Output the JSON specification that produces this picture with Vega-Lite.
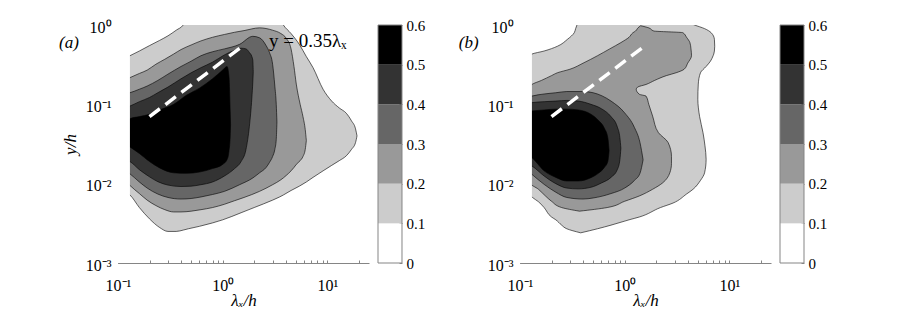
{
  "$schema": "https://vega.github.io/schema/vega-lite/v6.json",
  "padding": {"left": 59, "top": 18, "right": 5, "bottom": 5},
  "background": "white",
  "config": {
    "font": "Liberation Serif",
    "view": {"stroke": null},
    "axis": {"labelFont": "Liberation Serif", "titleFont": "Liberation Serif", "labelFontSize": 16, "titleFontSize": 17, "titleFontWeight": "normal", "labelColor": "#000", "titleColor": "#000", "domainColor": "#858585", "tickColor": "#858585", "grid": false, "zindex": 1, "labelFlush": false, "labelOverlap": false}
  },
  "datasets": {
    "av": [
      {"lev":1,"x":0.125,"lo":0.0075,"hi":0.40},{"lev":1,"x":0.13,"lo":0.0072,"hi":0.41},{"lev":1,"x":0.16,"lo":0.0050,"hi":0.47},{"lev":1,"x":0.2,"lo":0.0036,"hi":0.55},{"lev":1,"x":0.25,"lo":0.0028,"hi":0.64},{"lev":1,"x":0.3,"lo":0.0025,"hi":0.73},{"lev":1,"x":0.36,"lo":0.0025,"hi":0.86},{"lev":1,"x":0.42,"lo":0.0026,"hi":1.0},{"lev":1,"x":0.47,"lo":0.0027,"hi":1.3},{"lev":1,"x":0.6,"lo":0.0029,"hi":1.3},{"lev":1,"x":0.8,"lo":0.0032,"hi":1.3},{"lev":1,"x":1.0,"lo":0.0035,"hi":1.3},{"lev":1,"x":1.5,"lo":0.0043,"hi":1.3},{"lev":1,"x":2.0,"lo":0.0050,"hi":1.3},{"lev":1,"x":3.0,"lo":0.0062,"hi":1.3},{"lev":1,"x":3.5,"lo":0.0068,"hi":1.2},{"lev":1,"x":3.8,"lo":0.0072,"hi":1.0},{"lev":1,"x":4.5,"lo":0.0082,"hi":0.78},{"lev":1,"x":5.4,"lo":0.0093,"hi":0.57},{"lev":1,"x":6.3,"lo":0.0105,"hi":0.40},{"lev":1,"x":7.3,"lo":0.012,"hi":0.29},{"lev":1,"x":9.1,"lo":0.0145,"hi":0.155},{"lev":1,"x":11,"lo":0.017,"hi":0.11},{"lev":1,"x":13,"lo":0.0195,"hi":0.09},{"lev":1,"x":15.2,"lo":0.0225,"hi":0.077},{"lev":1,"x":17,"lo":0.027,"hi":0.062},{"lev":1,"x":18.6,"lo":0.033,"hi":0.049},{"lev":1,"x":19.2,"lo":0.04,"hi":0.04},
      {"lev":2,"x":0.125,"lo":0.0100,"hi":0.212},{"lev":2,"x":0.13,"lo":0.0095,"hi":0.217},{"lev":2,"x":0.16,"lo":0.0075,"hi":0.245},{"lev":2,"x":0.19,"lo":0.0062,"hi":0.27},{"lev":2,"x":0.23,"lo":0.0053,"hi":0.32},{"lev":2,"x":0.28,"lo":0.0047,"hi":0.37},{"lev":2,"x":0.34,"lo":0.0044,"hi":0.43},{"lev":2,"x":0.40,"lo":0.0044,"hi":0.49},{"lev":2,"x":0.5,"lo":0.0045,"hi":0.56},{"lev":2,"x":0.62,"lo":0.0047,"hi":0.63},{"lev":2,"x":0.8,"lo":0.0050,"hi":0.70},{"lev":2,"x":1.04,"lo":0.0055,"hi":0.76},{"lev":2,"x":1.3,"lo":0.0061,"hi":0.81},{"lev":2,"x":1.6,"lo":0.0067,"hi":0.85},{"lev":2,"x":2.25,"lo":0.0080,"hi":0.92},{"lev":2,"x":3.0,"lo":0.0097,"hi":0.86},{"lev":2,"x":3.6,"lo":0.0112,"hi":0.78},{"lev":2,"x":4.05,"lo":0.0127,"hi":0.68},{"lev":2,"x":4.5,"lo":0.0145,"hi":0.50},{"lev":2,"x":4.8,"lo":0.016,"hi":0.30},{"lev":2,"x":5.05,"lo":0.0175,"hi":0.18},{"lev":2,"x":5.5,"lo":0.0195,"hi":0.10},{"lev":2,"x":5.85,"lo":0.022,"hi":0.07},{"lev":2,"x":6.15,"lo":0.027,"hi":0.048},{"lev":2,"x":6.3,"lo":0.035,"hi":0.035},
      {"lev":3,"x":0.125,"lo":0.0138,"hi":0.138},{"lev":3,"x":0.13,"lo":0.0133,"hi":0.14},{"lev":3,"x":0.16,"lo":0.0105,"hi":0.155},{"lev":3,"x":0.19,"lo":0.0088,"hi":0.17},{"lev":3,"x":0.24,"lo":0.0074,"hi":0.20},{"lev":3,"x":0.3,"lo":0.0067,"hi":0.24},{"lev":3,"x":0.4,"lo":0.0064,"hi":0.30},{"lev":3,"x":0.5,"lo":0.0065,"hi":0.35},{"lev":3,"x":0.62,"lo":0.0068,"hi":0.41},{"lev":3,"x":0.8,"lo":0.0073,"hi":0.46},{"lev":3,"x":1.04,"lo":0.0080,"hi":0.50},{"lev":3,"x":1.45,"lo":0.0097,"hi":0.57},{"lev":3,"x":1.94,"lo":0.0118,"hi":0.72},{"lev":3,"x":2.25,"lo":0.0137,"hi":0.69},{"lev":3,"x":2.6,"lo":0.016,"hi":0.55},{"lev":3,"x":2.8,"lo":0.0185,"hi":0.45},{"lev":3,"x":3.0,"lo":0.022,"hi":0.32},{"lev":3,"x":3.15,"lo":0.027,"hi":0.17},{"lev":3,"x":3.25,"lo":0.036,"hi":0.10},{"lev":3,"x":3.3,"lo":0.06,"hi":0.06},
      {"lev":4,"x":0.125,"lo":0.0195,"hi":0.093},{"lev":4,"x":0.13,"lo":0.0190,"hi":0.095},{"lev":4,"x":0.16,"lo":0.0150,"hi":0.108},{"lev":4,"x":0.2,"lo":0.0122,"hi":0.122},{"lev":4,"x":0.24,"lo":0.0106,"hi":0.14},{"lev":4,"x":0.3,"lo":0.0096,"hi":0.165},{"lev":4,"x":0.4,"lo":0.0092,"hi":0.21},{"lev":4,"x":0.5,"lo":0.0093,"hi":0.25},{"lev":4,"x":0.62,"lo":0.0097,"hi":0.29},{"lev":4,"x":0.8,"lo":0.0105,"hi":0.34},{"lev":4,"x":1.04,"lo":0.0125,"hi":0.42},{"lev":4,"x":1.3,"lo":0.0155,"hi":0.48},{"lev":4,"x":1.5,"lo":0.019,"hi":0.51},{"lev":4,"x":1.67,"lo":0.027,"hi":0.50},{"lev":4,"x":1.8,"lo":0.053,"hi":0.45},{"lev":4,"x":1.9,"lo":0.12,"hi":0.40},{"lev":4,"x":1.94,"lo":0.19,"hi":0.36},{"lev":4,"x":1.96,"lo":0.26,"hi":0.26},
      {"lev":5,"x":0.125,"lo":0.030,"hi":0.064},{"lev":5,"x":0.13,"lo":0.029,"hi":0.066},{"lev":5,"x":0.16,"lo":0.024,"hi":0.07},{"lev":5,"x":0.2,"lo":0.019,"hi":0.075},{"lev":5,"x":0.25,"lo":0.0158,"hi":0.085},{"lev":5,"x":0.34,"lo":0.0137,"hi":0.10},{"lev":5,"x":0.45,"lo":0.0135,"hi":0.13},{"lev":5,"x":0.6,"lo":0.0140,"hi":0.16},{"lev":5,"x":0.8,"lo":0.0155,"hi":0.21},{"lev":5,"x":1.0,"lo":0.0175,"hi":0.27},{"lev":5,"x":1.1,"lo":0.020,"hi":0.30},{"lev":5,"x":1.15,"lo":0.026,"hi":0.22},{"lev":5,"x":1.18,"lo":0.04,"hi":0.08},{"lev":5,"x":1.19,"lo":0.055,"hi":0.055}
    ],
    "bv": [
      {"lev":3,"x":0.125,"lo":0.0137,"hi":0.125},{"lev":3,"x":0.13,"lo":0.0131,"hi":0.127},{"lev":3,"x":0.17,"lo":0.0098,"hi":0.135},{"lev":3,"x":0.22,"lo":0.0078,"hi":0.14},{"lev":3,"x":0.28,"lo":0.0067,"hi":0.145},{"lev":3,"x":0.4,"lo":0.0064,"hi":0.145},{"lev":3,"x":0.5,"lo":0.0066,"hi":0.14},{"lev":3,"x":0.74,"lo":0.0075,"hi":0.11},{"lev":3,"x":1.0,"lo":0.0088,"hi":0.078},{"lev":3,"x":1.24,"lo":0.011,"hi":0.051},{"lev":3,"x":1.4,"lo":0.0135,"hi":0.033},{"lev":3,"x":1.5,"lo":0.02,"hi":0.02},
      {"lev":4,"x":0.125,"lo":0.0172,"hi":0.104},{"lev":4,"x":0.13,"lo":0.0167,"hi":0.105},{"lev":4,"x":0.17,"lo":0.0125,"hi":0.108},{"lev":4,"x":0.22,"lo":0.0100,"hi":0.11},{"lev":4,"x":0.28,"lo":0.0088,"hi":0.112},{"lev":4,"x":0.36,"lo":0.0086,"hi":0.11},{"lev":4,"x":0.476,"lo":0.0090,"hi":0.10},{"lev":4,"x":0.6,"lo":0.0102,"hi":0.088},{"lev":4,"x":0.74,"lo":0.0120,"hi":0.07},{"lev":4,"x":0.85,"lo":0.0150,"hi":0.052},{"lev":4,"x":0.9,"lo":0.020,"hi":0.038},{"lev":4,"x":0.92,"lo":0.028,"hi":0.028},
      {"lev":5,"x":0.125,"lo":0.022,"hi":0.082},{"lev":5,"x":0.13,"lo":0.0212,"hi":0.0825},{"lev":5,"x":0.17,"lo":0.0145,"hi":0.085},{"lev":5,"x":0.22,"lo":0.0120,"hi":0.087},{"lev":5,"x":0.28,"lo":0.0108,"hi":0.087},{"lev":5,"x":0.36,"lo":0.0108,"hi":0.085},{"lev":5,"x":0.476,"lo":0.0119,"hi":0.075},{"lev":5,"x":0.56,"lo":0.0135,"hi":0.063},{"lev":5,"x":0.64,"lo":0.016,"hi":0.05},{"lev":5,"x":0.69,"lo":0.019,"hi":0.038},{"lev":5,"x":0.71,"lo":0.026,"hi":0.026}
    ],
    "bh": [
      {"lev":1,"y":0.0024,"xl":0.38,"xr":0.38},{"lev":1,"y":0.0027,"xl":0.28,"xr":0.55},{"lev":1,"y":0.003,"xl":0.25,"xr":0.74},{"lev":1,"y":0.0035,"xl":0.22,"xr":1.1},{"lev":1,"y":0.0038,"xl":0.2,"xr":1.38},{"lev":1,"y":0.005,"xl":0.17,"xr":2.2},{"lev":1,"y":0.0057,"xl":0.155,"xr":2.9},{"lev":1,"y":0.0074,"xl":0.125,"xr":3.9},{"lev":1,"y":0.0085,"xl":0.125,"xr":4.5},{"lev":1,"y":0.011,"xl":0.125,"xr":5.3},{"lev":1,"y":0.0137,"xl":0.125,"xr":5.8},{"lev":1,"y":0.0203,"xl":0.125,"xr":6.0},{"lev":1,"y":0.03,"xl":0.125,"xr":5.85},{"lev":1,"y":0.044,"xl":0.125,"xr":5.6},{"lev":1,"y":0.07,"xl":0.125,"xr":5.2},{"lev":1,"y":0.116,"xl":0.125,"xr":5.0},{"lev":1,"y":0.18,"xl":0.125,"xr":5.05},{"lev":1,"y":0.25,"xl":0.125,"xr":5.3},{"lev":1,"y":0.3,"xl":0.125,"xr":6.0},{"lev":1,"y":0.35,"xl":0.125,"xr":6.6},{"lev":1,"y":0.41,"xl":0.125,"xr":7.0},{"lev":1,"y":0.43,"xl":0.13,"xr":7.1},{"lev":1,"y":0.47,"xl":0.17,"xr":7.2},{"lev":1,"y":0.54,"xl":0.228,"xr":7.25},{"lev":1,"y":0.66,"xl":0.284,"xr":7.2},{"lev":1,"y":0.8,"xl":0.33,"xr":6.7},{"lev":1,"y":0.9,"xl":0.34,"xr":5.8},{"lev":1,"y":1.0,"xl":0.35,"xr":4.65},{"lev":1,"y":1.3,"xl":0.38,"xr":3.0},
      {"lev":2,"y":0.0045,"xl":0.37,"xr":0.37},{"lev":2,"y":0.005,"xl":0.25,"xr":0.68},{"lev":2,"y":0.006,"xl":0.2,"xr":1.0},{"lev":2,"y":0.007,"xl":0.175,"xr":1.38},{"lev":2,"y":0.0085,"xl":0.15,"xr":1.85},{"lev":2,"y":0.0102,"xl":0.125,"xr":2.3},{"lev":2,"y":0.0137,"xl":0.125,"xr":2.7},{"lev":2,"y":0.018,"xl":0.125,"xr":2.8},{"lev":2,"y":0.022,"xl":0.125,"xr":2.8},{"lev":2,"y":0.033,"xl":0.125,"xr":2.6},{"lev":2,"y":0.044,"xl":0.125,"xr":2.1},{"lev":2,"y":0.071,"xl":0.125,"xr":1.85},{"lev":2,"y":0.1,"xl":0.125,"xr":1.7},{"lev":2,"y":0.127,"xl":0.125,"xr":1.6},{"lev":2,"y":0.134,"xl":0.125,"xr":1.38},{"lev":2,"y":0.155,"xl":0.125,"xr":1.29},{"lev":2,"y":0.165,"xl":0.125,"xr":1.33},{"lev":2,"y":0.178,"xl":0.13,"xr":1.6},{"lev":2,"y":0.2,"xl":0.16,"xr":1.93},{"lev":2,"y":0.23,"xl":0.2,"xr":2.5},{"lev":2,"y":0.25,"xl":0.228,"xr":3.1},{"lev":2,"y":0.277,"xl":0.3,"xr":3.7},{"lev":2,"y":0.33,"xl":0.40,"xr":4.0},{"lev":2,"y":0.41,"xl":0.55,"xr":4.35},{"lev":2,"y":0.5,"xl":0.72,"xr":4.3},{"lev":2,"y":0.6,"xl":0.92,"xr":4.2},{"lev":2,"y":0.7,"xl":1.1,"xr":3.9},{"lev":2,"y":0.8,"xl":1.2,"xr":3.6},{"lev":2,"y":0.84,"xl":1.27,"xr":1.9},{"lev":2,"y":0.92,"xl":1.34,"xr":1.7},{"lev":2,"y":0.98,"xl":1.42,"xr":1.42}
    ],
    "dash": [{"x":0.2,"y":0.07},{"x":1.55,"y":0.5425}],
    "cb": [{"lev":"0","lo":0,"hi":0.1},{"lev":"1","lo":0.1,"hi":0.2},{"lev":"2","lo":0.2,"hi":0.3},{"lev":"3","lo":0.3,"hi":0.4},{"lev":"4","lo":0.4,"hi":0.5},{"lev":"5","lo":0.5,"hi":0.6},{"lev":"f","lo":0,"hi":0.6}]
  },
  "spacing": 9,
  "bounds": "flush",
  "hconcat": [
    {
      "width": 251, "height": 238,
      "layer": [
        {"data": {"name": "av"}, "transform": [{"filter": "datum.lev == 1"}],
         "mark": {"type": "area", "orient": "vertical", "interpolate": "monotone", "fill": "#cccccc", "stroke": "#000", "strokeWidth": 0.6, "clip": true},
         "encoding": {
           "x": {"field": "x", "type": "quantitative", "scale": {"type": "log", "domain": [0.1, 25], "nice": false},
                 "axis": {"title": "λₓ/h", "titleFontStyle": "italic", "values": [0.1,0.2,0.3,0.4,0.5,0.6,0.7,0.8,0.9,1,2,3,4,5,6,7,8,9,10,20], "labelExpr": "datum.value == 0.1 ? '10⁻¹' : datum.value == 1 ? '10⁰' : datum.value == 10 ? '10¹' : ''", "tickSize": -3, "labelPadding": 17, "titlePadding": -1, "labelOverlap": false}},
           "y": {"field": "lo", "type": "quantitative", "scale": {"type": "log", "domain": [0.001, 1], "nice": false},
                 "axis": {"title": "y/h", "titleFontStyle": "italic", "values": [0.001,0.002,0.003,0.004,0.005,0.006,0.007,0.008,0.009,0.01,0.02,0.03,0.04,0.05,0.06,0.07,0.08,0.09,0.1,0.2,0.3,0.4,0.5,0.6,0.7,0.8,0.9,1], "labelExpr": "datum.value == 0.001 ? '10⁻³' : datum.value == 0.01 ? '10⁻²' : datum.value == 0.1 ? '10⁻¹' : datum.value == 1 ? '10⁰' : ''", "tickSize": -3, "labelPadding": 10, "labelOffset": 2, "titlePadding": 6, "labelOverlap": false}},
           "y2": {"field": "hi"}}},
        {"data": {"name": "av"}, "transform": [{"filter": "datum.lev == 2"}],
         "mark": {"type": "area", "orient": "vertical", "interpolate": "monotone", "fill": "#999999", "stroke": "#000", "strokeWidth": 0.6, "clip": true},
         "encoding": {"x": {"field": "x", "type": "quantitative"}, "y": {"field": "lo", "type": "quantitative"}, "y2": {"field": "hi"}}},
        {"data": {"name": "av"}, "transform": [{"filter": "datum.lev == 3"}],
         "mark": {"type": "area", "orient": "vertical", "interpolate": "monotone", "fill": "#666666", "stroke": "#000", "strokeWidth": 0.6, "clip": true},
         "encoding": {"x": {"field": "x", "type": "quantitative"}, "y": {"field": "lo", "type": "quantitative"}, "y2": {"field": "hi"}}},
        {"data": {"name": "av"}, "transform": [{"filter": "datum.lev == 4"}],
         "mark": {"type": "area", "orient": "vertical", "interpolate": "monotone", "fill": "#333333", "stroke": "#000", "strokeWidth": 0.6, "clip": true},
         "encoding": {"x": {"field": "x", "type": "quantitative"}, "y": {"field": "lo", "type": "quantitative"}, "y2": {"field": "hi"}}},
        {"data": {"name": "av"}, "transform": [{"filter": "datum.lev == 5"}],
         "mark": {"type": "area", "orient": "vertical", "interpolate": "monotone", "fill": "#000000", "stroke": "#000", "strokeWidth": 0.6, "clip": true},
         "encoding": {"x": {"field": "x", "type": "quantitative"}, "y": {"field": "lo", "type": "quantitative"}, "y2": {"field": "hi"}}},
        {"data": {"values": [{}]}, "mark": {"type": "rect", "fill": "white"},
         "encoding": {"x": {"datum": 0.1, "type": "quantitative"}, "x2": {"datum": 0.13}, "y": {"datum": 0.001, "type": "quantitative"}, "y2": {"datum": 1}}},
        {"data": {"name": "dash"}, "mark": {"type": "line", "stroke": "white", "strokeWidth": 3.5, "strokeDash": [13, 7], "strokeCap": "butt", "clip": true},
         "encoding": {"x": {"field": "x", "type": "quantitative"}, "y": {"field": "y", "type": "quantitative"}}},
        {"data": {"values": [{"x": 0.034, "y": 0.6, "t": "(a)"}]}, "mark": {"type": "text", "font": "Liberation Serif", "fontSize": 17, "fontStyle": "italic", "align": "center", "baseline": "middle"},
         "encoding": {"x": {"field": "x", "type": "quantitative"}, "y": {"field": "y", "type": "quantitative"}, "text": {"field": "t"}}},
        {"data": {"values": [{"x": 6.5, "y": 0.528, "t": "y = 0.35λₓ"}]}, "mark": {"type": "text", "font": "Liberation Serif", "fontSize": 19, "align": "center", "baseline": "alphabetic"},
         "encoding": {"x": {"field": "x", "type": "quantitative"}, "y": {"field": "y", "type": "quantitative"}, "text": {"field": "t"}}}
      ]
    },
    {
      "width": 133, "height": 238,
      "data": {"name": "cb"},
      "mark": {"type": "rect", "strokeWidth": 1},
      "encoding": {
        "x": {"datum": 0, "type": "quantitative", "scale": {"domain": [0, 5.5417], "nice": false, "zero": false}, "axis": null},
        "x2": {"datum": 1},
        "y": {"field": "lo", "type": "quantitative", "scale": {"domain": [0, 0.6], "nice": false}, "axis": {"orient": "right", "offset": -109, "title": null, "domain": false, "values": [0,0.1,0.2,0.3,0.4,0.5,0.6], "labelExpr": "datum.value == 0 ? '0' : format(datum.value, '.1f')", "tickSize": -3, "labelPadding": 7, "labelFontSize": 15, "labelOverlap": false, "labelBound": false}},
        "y2": {"field": "hi"},
        "fill": {"field": "lev", "type": "nominal", "scale": {"domain": ["0","1","2","3","4","5","f"], "range": ["#ffffff","#cccccc","#999999","#666666","#333333","#000000","transparent"]}, "legend": null},
        "stroke": {"field": "lev", "type": "nominal", "scale": {"domain": ["0","1","2","3","4","5","f"], "range": ["transparent","transparent","transparent","transparent","transparent","transparent","#858585"]}, "legend": null}
      }
    },
    {
      "width": 251, "height": 238,
      "layer": [
        {"data": {"name": "bh"}, "transform": [{"filter": "datum.lev == 1"}],
         "mark": {"type": "area", "orient": "horizontal", "interpolate": "monotone", "fill": "#cccccc", "stroke": "#000", "strokeWidth": 0.6, "clip": true},
         "encoding": {
           "x": {"field": "xl", "type": "quantitative", "scale": {"type": "log", "domain": [0.1, 25], "nice": false},
                 "axis": {"title": "λₓ/h", "titleFontStyle": "italic", "values": [0.1,0.2,0.3,0.4,0.5,0.6,0.7,0.8,0.9,1,2,3,4,5,6,7,8,9,10,20], "labelExpr": "datum.value == 0.1 ? '10⁻¹' : datum.value == 1 ? '10⁰' : datum.value == 10 ? '10¹' : ''", "tickSize": -3, "labelPadding": 17, "titlePadding": -1, "labelOverlap": false}},
           "x2": {"field": "xr"},
           "y": {"field": "y", "type": "quantitative", "scale": {"type": "log", "domain": [0.001, 1], "nice": false},
                 "axis": {"title": null, "values": [0.001,0.002,0.003,0.004,0.005,0.006,0.007,0.008,0.009,0.01,0.02,0.03,0.04,0.05,0.06,0.07,0.08,0.09,0.1,0.2,0.3,0.4,0.5,0.6,0.7,0.8,0.9,1], "labelExpr": "datum.value == 0.001 ? '10⁻³' : datum.value == 0.01 ? '10⁻²' : datum.value == 0.1 ? '10⁻¹' : datum.value == 1 ? '10⁰' : ''", "tickSize": -3, "labelPadding": 10, "labelOffset": 2, "labelOverlap": false}}}},
        {"data": {"name": "bh"}, "transform": [{"filter": "datum.lev == 2"}],
         "mark": {"type": "area", "orient": "horizontal", "interpolate": "monotone", "fill": "#999999", "stroke": "#000", "strokeWidth": 0.6, "clip": true},
         "encoding": {"x": {"field": "xl", "type": "quantitative"}, "x2": {"field": "xr"}, "y": {"field": "y", "type": "quantitative"}}},
        {"data": {"name": "bv"}, "transform": [{"filter": "datum.lev == 3"}],
         "mark": {"type": "area", "orient": "vertical", "interpolate": "monotone", "fill": "#666666", "stroke": "#000", "strokeWidth": 0.6, "clip": true},
         "encoding": {"x": {"field": "x", "type": "quantitative"}, "y": {"field": "lo", "type": "quantitative"}, "y2": {"field": "hi"}}},
        {"data": {"name": "bv"}, "transform": [{"filter": "datum.lev == 4"}],
         "mark": {"type": "area", "orient": "vertical", "interpolate": "monotone", "fill": "#333333", "stroke": "#000", "strokeWidth": 0.6, "clip": true},
         "encoding": {"x": {"field": "x", "type": "quantitative"}, "y": {"field": "lo", "type": "quantitative"}, "y2": {"field": "hi"}}},
        {"data": {"name": "bv"}, "transform": [{"filter": "datum.lev == 5"}],
         "mark": {"type": "area", "orient": "vertical", "interpolate": "monotone", "fill": "#000000", "stroke": "#000", "strokeWidth": 0.6, "clip": true},
         "encoding": {"x": {"field": "x", "type": "quantitative"}, "y": {"field": "lo", "type": "quantitative"}, "y2": {"field": "hi"}}},
        {"data": {"values": [{}]}, "mark": {"type": "rect", "fill": "white"},
         "encoding": {"x": {"datum": 0.1, "type": "quantitative"}, "x2": {"datum": 0.13}, "y": {"datum": 0.001, "type": "quantitative"}, "y2": {"datum": 1}}},
        {"data": {"name": "dash"}, "mark": {"type": "line", "stroke": "white", "strokeWidth": 3.5, "strokeDash": [13, 7], "strokeCap": "butt", "clip": true},
         "encoding": {"x": {"field": "x", "type": "quantitative"}, "y": {"field": "y", "type": "quantitative"}}},
        {"data": {"values": [{"x": 0.0324, "y": 0.6, "t": "(b)"}]}, "mark": {"type": "text", "font": "Liberation Serif", "fontSize": 17, "fontStyle": "italic", "align": "center", "baseline": "middle"},
         "encoding": {"x": {"field": "x", "type": "quantitative"}, "y": {"field": "y", "type": "quantitative"}, "text": {"field": "t"}}}
      ]
    },
    {
      "width": 24, "height": 238,
      "data": {"name": "cb"},
      "mark": {"type": "rect", "strokeWidth": 1},
      "encoding": {
        "x": {"datum": 0, "type": "quantitative", "scale": {"domain": [0, 1], "nice": false, "zero": false}, "axis": null},
        "x2": {"datum": 1},
        "y": {"field": "lo", "type": "quantitative", "scale": {"domain": [0, 0.6], "nice": false}, "axis": {"orient": "right", "title": null, "domain": false, "values": [0,0.1,0.2,0.3,0.4,0.5,0.6], "labelExpr": "datum.value == 0 ? '0' : format(datum.value, '.1f')", "tickSize": -3, "labelPadding": 7, "labelFontSize": 15, "labelOverlap": false, "labelBound": false}},
        "y2": {"field": "hi"},
        "fill": {"field": "lev", "type": "nominal", "scale": {"domain": ["0","1","2","3","4","5","f"], "range": ["#ffffff","#cccccc","#999999","#666666","#333333","#000000","transparent"]}, "legend": null},
        "stroke": {"field": "lev", "type": "nominal", "scale": {"domain": ["0","1","2","3","4","5","f"], "range": ["transparent","transparent","transparent","transparent","transparent","transparent","#858585"]}, "legend": null}
      }
    }
  ]
}
